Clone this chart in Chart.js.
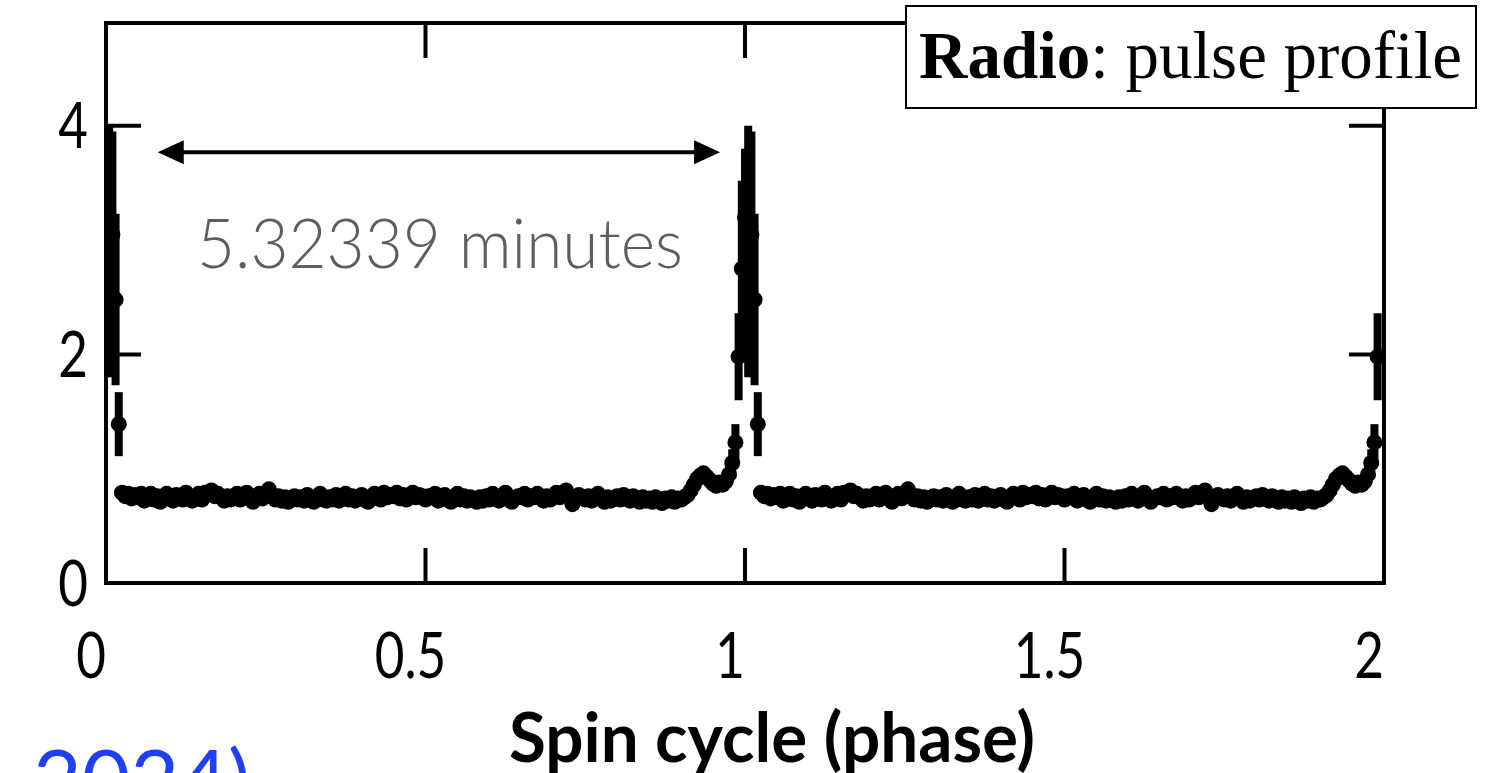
<!DOCTYPE html>
<html>
<head>
<meta charset="utf-8">
<script src="https://cdn.jsdelivr.net/npm/chart.js@4.4.1/dist/chart.umd.min.js"></script>
<style>
  html, body { margin: 0; padding: 0; background: #fff; }
  #wrap { width: 1491px; height: 773px; position: relative; }
</style>
</head>
<body>
<div id="wrap"><canvas id="pulseChart"></canvas></div>
<script>
// folded radio pulse profile, one cycle in bins of 0.005 phase
const binWidth = 0.005;
const cycleFlux = [
  3.20, 2.90, 3.05, 2.48, 1.39, 0.79, 0.76, 0.78, 0.74, 0.77,
  0.75, 0.78, 0.72, 0.76, 0.78, 0.73, 0.76, 0.71, 0.75, 0.78,
  0.76, 0.72, 0.77, 0.75, 0.73, 0.79, 0.76, 0.72, 0.75, 0.78,
  0.73, 0.79, 0.78, 0.81, 0.76, 0.78, 0.75, 0.72, 0.76, 0.73,
  0.75, 0.78, 0.73, 0.76, 0.79, 0.75, 0.71, 0.76, 0.78, 0.74,
  0.78, 0.82, 0.77, 0.73, 0.76, 0.72, 0.75, 0.71, 0.74, 0.76,
  0.73, 0.75, 0.72, 0.77, 0.74, 0.71, 0.75, 0.78, 0.73, 0.72,
  0.75, 0.73, 0.77, 0.72, 0.75, 0.78, 0.73, 0.76, 0.72, 0.75,
  0.77, 0.73, 0.71, 0.75, 0.78, 0.76, 0.73, 0.79, 0.75, 0.77,
  0.76, 0.79, 0.74, 0.77, 0.73, 0.76, 0.79, 0.75, 0.77, 0.76,
  0.73, 0.76, 0.75, 0.78, 0.72, 0.75, 0.77, 0.73, 0.71, 0.75,
  0.78, 0.73, 0.76, 0.72, 0.75, 0.74, 0.71, 0.75, 0.72, 0.76,
  0.73, 0.78, 0.75, 0.72, 0.76, 0.79, 0.75, 0.71, 0.74, 0.76,
  0.75, 0.78, 0.73, 0.76, 0.75, 0.78, 0.75, 0.72, 0.76, 0.73,
  0.76, 0.79, 0.75, 0.77, 0.81, 0.76, 0.69, 0.74, 0.77, 0.75,
  0.73, 0.76, 0.72, 0.75, 0.78, 0.74, 0.71, 0.75, 0.72, 0.74,
  0.76, 0.73, 0.77, 0.75, 0.72, 0.76, 0.74, 0.71, 0.75, 0.72,
  0.74, 0.71, 0.75, 0.73, 0.70, 0.74, 0.72, 0.75, 0.71, 0.74,
  0.73, 0.75, 0.77, 0.81, 0.86, 0.91, 0.94, 0.96, 0.93, 0.90,
  0.87, 0.85, 0.88, 0.86, 0.89, 0.95, 1.05, 1.23, 1.98, 2.75
];
// error bars that are visible (around the pulse)
const errPhase = [0, 0.005, 0.01, 0.015, 0.02, 0.975, 0.98, 0.985, 0.99, 0.995];
const errSize = [0.6, 1.1, 0.9, 0.75, 0.28, 0.08, 0.12, 0.16, 0.38, 0.77];
const baseErr = 0.03;

const nCycles = 2;
const lastPhase = 1.99;
const xRange = [0, 2];
const yRange = [0, 4.9];
const xTicks = [0, 0.5, 1, 1.5, 2];
const xTickLabels = ['0', '0.5', '1', '1.5', '2'];
const yTicks = [0, 2, 4];
const yTickLabels = ['0', '2', '4'];
const periodLabel = '5.32339 minutes';
const arrowSpan = [0.081, 0.961];
const arrowY = 3.77;

const points = [];
for (let c = 0; c < nCycles; c++) {
    cycleFlux.forEach((v, i) => {
        const ph = +(c + i * binWidth).toFixed(3);
        if (ph > lastPhase + 1e-9) return;
        const k = errPhase.findIndex(e => Math.abs(e - i * binWidth) < 1e-6);
        points.push({ x: ph, y: v, err: k >= 0 ? errSize[k] : baseErr });
    });
}

const squeezed = (ctx, text, x, y, sx, align) => {
    ctx.save();
    ctx.translate(x, y);
    ctx.scale(sx, 1);
    ctx.textAlign = align;
    ctx.fillText(text, 0, 0);
    ctx.restore();
};

const errorBars = {
    id: 'errorBars',
    beforeDatasetsDraw(chart) {
        const { ctx, chartArea, scales: { x, y } } = chart;
        ctx.save();
        ctx.beginPath();
        ctx.rect(chartArea.left, chartArea.top, chartArea.right - chartArea.left, chartArea.bottom - chartArea.top);
        ctx.clip();
        ctx.strokeStyle = '#000';
        ctx.lineWidth = 8;
        points.forEach(p => {
            if (p.err < 0.05) return;
            const px = x.getPixelForValue(p.x);
            ctx.beginPath();
            ctx.moveTo(px, y.getPixelForValue(p.y - p.err));
            ctx.lineTo(px, y.getPixelForValue(p.y + p.err));
            ctx.stroke();
        });
        ctx.restore();
    }
};

const frame = {
    id: 'frame',
    afterDraw(chart) {
        const { ctx, chartArea: a, scales: { x, y } } = chart;
        ctx.save();
        ctx.strokeStyle = '#000';
        ctx.lineWidth = 4;
        ctx.strokeRect(a.left, a.top, a.right - a.left, a.bottom - a.top);

        // inward ticks
        const tl = 35;
        ctx.beginPath();
        xTicks.forEach(v => {
            const px = x.getPixelForValue(v);
            if (px <= a.left + 2 || px >= a.right - 2) return;
            ctx.moveTo(px, a.bottom); ctx.lineTo(px, a.bottom - tl);
            ctx.moveTo(px, a.top); ctx.lineTo(px, a.top + tl);
        });
        yTicks.forEach(v => {
            const py = y.getPixelForValue(v);
            if (py >= a.bottom - 2 || py <= a.top + 2) return;
            ctx.moveTo(a.left, py); ctx.lineTo(a.left + tl, py);
            ctx.moveTo(a.right, py); ctx.lineTo(a.right - tl, py);
        });
        ctx.stroke();

        // tick labels
        ctx.fillStyle = '#000';
        ctx.font = '64px Lato';
        ctx.textBaseline = 'alphabetic';
        xTicks.forEach((v, i) => {
            squeezed(ctx, xTickLabels[i], x.getPixelForValue(v) - 15, 678, 0.8, 'center');
        });
        ctx.textBaseline = 'middle';
        yTicks.forEach((v, i) => {
            squeezed(ctx, yTickLabels[i], 88, y.getPixelForValue(v) + 2, 0.8, 'right');
        });

        // period arrow
        const x1 = x.getPixelForValue(arrowSpan[0]);
        const x2 = x.getPixelForValue(arrowSpan[1]);
        const ay = y.getPixelForValue(arrowY);
        ctx.lineWidth = 4;
        ctx.beginPath();
        ctx.moveTo(x1 + 20, ay); ctx.lineTo(x2 - 20, ay);
        ctx.stroke();
        ctx.beginPath();
        ctx.moveTo(x1, ay); ctx.lineTo(x1 + 26, ay - 12); ctx.lineTo(x1 + 26, ay + 12); ctx.closePath();
        ctx.moveTo(x2, ay); ctx.lineTo(x2 - 26, ay - 12); ctx.lineTo(x2 - 26, ay + 12); ctx.closePath();
        ctx.fill();

        ctx.fillStyle = '#5e5e5e';
        ctx.font = '300 68px Lato';
        ctx.textBaseline = 'alphabetic';
        ctx.textAlign = 'center';
        ctx.fillText(periodLabel, 440, 268, 486);

        // label box
        ctx.fillStyle = '#fff';
        ctx.fillRect(906, 6, 570, 102);
        ctx.lineWidth = 2;
        ctx.strokeRect(906, 6, 570, 102);
        ctx.fillStyle = '#000';
        ctx.textAlign = 'left';
        ctx.font = 'bold 67px "Liberation Serif"';
        const w1 = ctx.measureText('Radio').width;
        ctx.fillText('Radio', 919, 78);
        ctx.font = '67px "Liberation Serif"';
        ctx.fillText(': pulse profile', 919 + w1, 78, 1462 - 919 - w1);

        // axis title
        ctx.font = 'bold 68px Lato';
        ctx.textAlign = 'center';
        ctx.fillText('Spin cycle (phase)', 772, 762, 526);

        // cut-off citation text at the bottom edge
        ctx.fillStyle = '#1f3ff5';
        ctx.font = '84px Lato';
        ctx.textAlign = 'left';
        ctx.fillText('2024)', 33, 810);
        ctx.restore();
    }
};

const ctx = document.getElementById('pulseChart').getContext('2d');
new Chart(ctx, {
    type: 'scatter',
    data: {
        datasets: [{
            data: points,
            backgroundColor: '#000',
            borderWidth: 0,
            pointRadius: 8,
            clip: 0
        }]
    },
    options: {
        responsive: true,
        maintainAspectRatio: false,
        animation: false,
        layout: { padding: { left: 106, right: 107, top: 23, bottom: 190 } },
        scales: {
            x: { type: 'linear', min: xRange[0], max: xRange[1], display: false },
            y: { type: 'linear', min: yRange[0], max: yRange[1], display: false }
        },
        plugins: { legend: { display: false }, tooltip: { enabled: false } }
    },
    plugins: [errorBars, frame]
});
</script>
</body>
</html>
